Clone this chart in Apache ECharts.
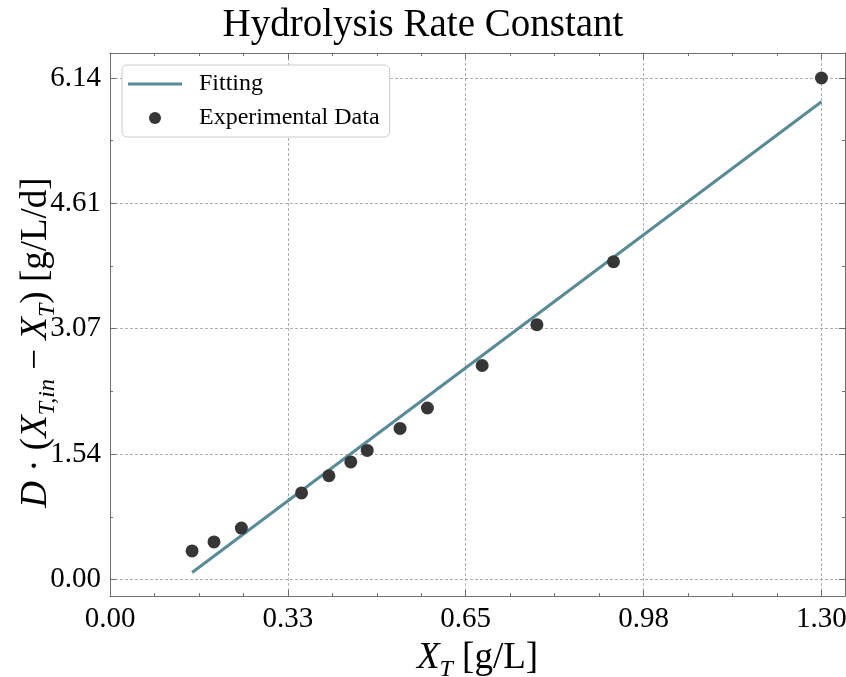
<!DOCTYPE html>
<html>
<head>
<meta charset="utf-8">
<script src="https://cdn.jsdelivr.net/npm/echarts@6/dist/echarts.min.js"></script>
<style>
  html, body { margin: 0; padding: 0; background: #ffffff; }
  #chart { width: 846px; height: 677px; }
</style>
</head>
<body>
<div id="chart"></div>
<script>
// Measured points: total solids X_T [g/L] against D·(X_T,in − X_T) [g/L/d]
const xData = [0.15, 0.19, 0.24, 0.35, 0.40, 0.44, 0.47, 0.53, 0.58, 0.68, 0.78, 0.92, 1.30];
const yData = [0.35, 0.46, 0.63, 1.06, 1.27, 1.44, 1.58, 1.85, 2.10, 2.62, 3.12, 3.89, 6.14];

// End points of the fitted straight line
const fitX = [0.15, 1.30];
const fitY = [0.085, 5.85];

// Axis ticks
const xTickValues = [0, 0.325, 0.65, 0.975, 1.3];
const xTickLabels = ['0.00', '0.33', '0.65', '0.98', '1.30'];
const xMinorValues = [0.08125, 0.1625, 0.24375, 0.40625, 0.4875, 0.56875, 0.73125, 0.8125, 0.89375, 1.05625, 1.1375, 1.21875];
const yTickValues = [0, 1.535, 3.07, 4.605, 6.14];
const yTickLabels = ['0.00', '1.54', '3.07', '4.61', '6.14'];
const yMinorValues = [0.7675, 2.3025, 3.8375, 5.3725];

const X_RANGE = [0, 1.343];
const Y_RANGE = [-0.202, 6.446];

const FONT = "'Liberation Serif', 'DejaVu Serif', serif";
const SPINE = '#6e6e6e';
const LINE_COLOR = '#588a98';
const DOT_COLOR = '#363636';

function lookup(values, labels) {
  return function (v) {
    for (let i = 0; i < values.length; i++) {
      if (Math.abs(values[i] - v) < 1e-9) return labels[i];
    }
    return '';
  };
}

const nameRich = {
  n:   { fontFamily: FONT, fontSize: 37, lineHeight: 48, color: '#000' },
  i:   { fontFamily: FONT, fontSize: 37, lineHeight: 48, fontStyle: 'italic', color: '#000' },
  sub: { fontFamily: FONT, fontSize: 24, lineHeight: 26, fontStyle: 'italic', verticalAlign: 'bottom', color: '#000' }
};

function xAxisDef(pos, ticks, len, withLabels, withGrid, withLine) {
  return {
    type: 'value', position: pos, min: X_RANGE[0], max: X_RANGE[1],
    axisLine: { show: withLine, onZero: false, lineStyle: { color: SPINE, width: 1 } },
    axisTick: { show: true, inside: true, length: len, customValues: ticks, lineStyle: { color: SPINE, width: 1 } },
    axisLabel: withLabels ? {
      show: true, customValues: xTickValues, formatter: lookup(xTickValues, xTickLabels),
      fontFamily: FONT, fontSize: 29, color: '#000', margin: 9
    } : { show: false },
    splitLine: withGrid ? { show: true, lineStyle: { color: '#9a9a9a', width: 0.8, type: [3, 2] } } : { show: false },
    minorTick: { show: false }
  };
}

function yAxisDef(pos, ticks, len, withLabels, withGrid, withLine) {
  return {
    type: 'value', position: pos, min: Y_RANGE[0], max: Y_RANGE[1],
    axisLine: { show: withLine, onZero: false, lineStyle: { color: SPINE, width: 1 } },
    axisTick: { show: true, inside: true, length: len, customValues: ticks, lineStyle: { color: SPINE, width: 1 } },
    axisLabel: withLabels ? {
      show: true, customValues: yTickValues, formatter: lookup(yTickValues, yTickLabels),
      fontFamily: FONT, fontSize: 29, color: '#000', margin: 9
    } : { show: false },
    splitLine: withGrid ? { show: true, lineStyle: { color: '#9a9a9a', width: 0.8, type: [3, 2] } } : { show: false },
    minorTick: { show: false }
  };
}

const xMain = xAxisDef('bottom', xTickValues, 6, true, true, true);
xMain.name = '{i|X}{sub|T}{n| [g/L]}';
xMain.nameLocation = 'middle';
xMain.nameGap = 38;
xMain.nameTextStyle = { rich: nameRich };

const yMain = yAxisDef('left', yTickValues, 6, true, true, true);
yMain.name = '{i|D}{n| · (}{i|X}{sub|T,in}{n| − }{i|X}{sub|T}{n|) [g/L/d]}';
yMain.nameLocation = 'middle';
yMain.nameRotate = 90;
yMain.nameGap = 50;
yMain.nameMoveOverlap = false;
yMain.nameTextStyle = { rich: nameRich, padding: [0, 36, 0, 0] };

const chart = echarts.init(document.getElementById('chart'), null, { renderer: 'canvas' });

chart.setOption({
  animation: false,
  backgroundColor: '#ffffff',
  title: {
    text: 'Hydrolysis Rate Constant',
    left: 'center',
    top: 1,
    textStyle: { fontFamily: FONT, fontSize: 39, fontWeight: 'normal', color: '#000' }
  },
  grid: { left: 110, top: 53, width: 735, height: 543, containLabel: false, outerBoundsMode: 'none' },
  legend: {
    orient: 'vertical',
    left: 122, top: 65,
    backgroundColor: '#ffffff',
    borderColor: '#cccccc', borderWidth: 1, borderRadius: 5,
    padding: [7, 10, 7, 6],
    itemWidth: 54, itemHeight: 12, itemGap: 10,
    textStyle: { fontFamily: FONT, fontSize: 24, color: '#000', padding: [0, 0, 0, 12], lineHeight: 24 },
    data: [
      { name: 'Fitting', icon: 'path://M0 0H54V3H0Z' },
      { name: 'Experimental Data', icon: 'circle' }
    ]
  },
  xAxis: [
    xMain,
    xAxisDef('bottom', xMinorValues, 3, false, false, false),
    xAxisDef('top', xTickValues, 6, false, false, true),
    xAxisDef('top', xMinorValues, 3, false, false, false)
  ],
  yAxis: [
    yMain,
    yAxisDef('left', yMinorValues, 3, false, false, false),
    yAxisDef('right', yTickValues, 6, false, false, true),
    yAxisDef('right', yMinorValues, 3, false, false, false)
  ],
  series: [
    {
      name: 'Fitting',
      type: 'line',
      xAxisIndex: 0, yAxisIndex: 0,
      data: fitX.map((x, k) => [x, fitY[k]]),
      symbol: 'none',
      lineStyle: { color: LINE_COLOR, width: 3 },
      itemStyle: { color: LINE_COLOR },
      z: 2
    },
    {
      name: 'Experimental Data',
      type: 'scatter',
      xAxisIndex: 0, yAxisIndex: 0,
      data: xData.map((x, k) => [x, yData[k]]),
      symbol: 'circle',
      symbolSize: 13,
      itemStyle: { color: DOT_COLOR, opacity: 1 },
      z: 3
    }
  ]
});
</script>
</body>
</html>
